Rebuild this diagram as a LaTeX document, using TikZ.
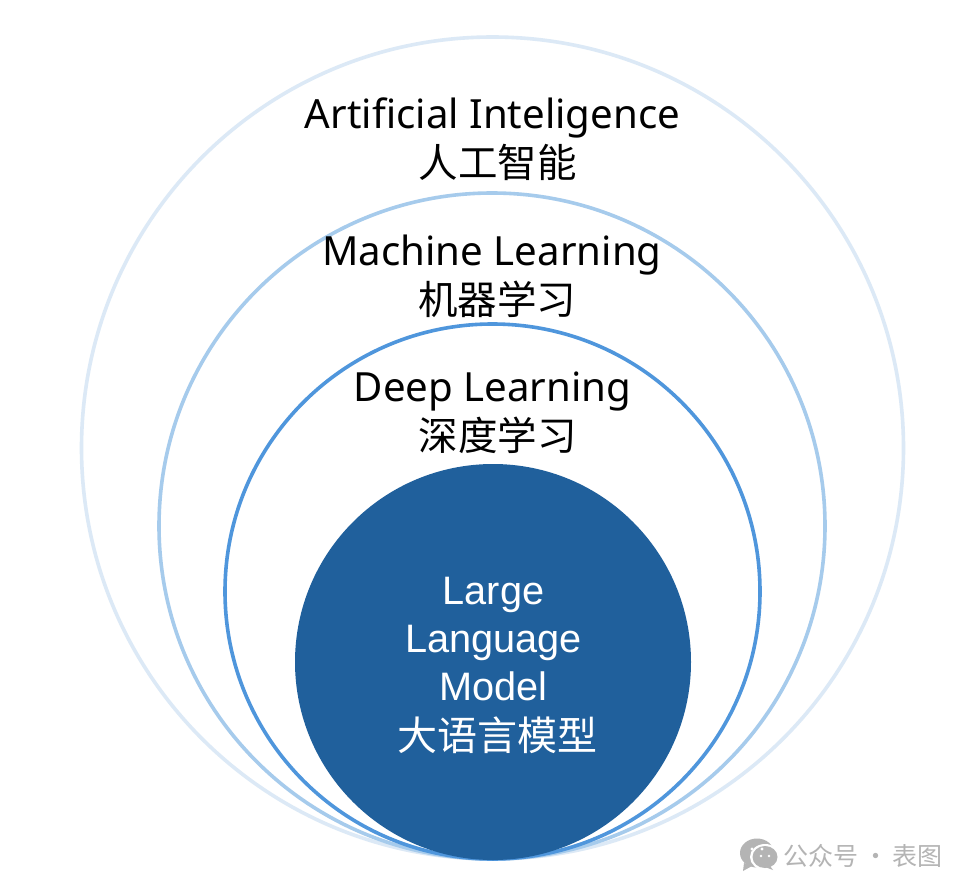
\documentclass[tikz,border=0pt]{standalone}
\usepackage{fontspec}
\setmainfont{Liberation Sans}
\newfontfamily\cjk{Noto Sans CJK SC}
\newfontfamily\latn{Noto Sans}
\definecolor{ringa}{HTML}{DCE9F6}
\definecolor{ringb}{HTML}{A6CBEC}
\definecolor{ringc}{HTML}{4F96DC}
\definecolor{core}{HTML}{20609C}
\definecolor{wm}{HTML}{B4B4B4}
\newcommand{\lzh}[1]{{\hspace{10pt}\cjk\fontsize{39.5}{48}\selectfont #1}}
\tikzset{
  ring/.style={circle,inner sep=0pt,outer sep=0pt,line width=3.6pt,fill=white},
  lab/.style={inner sep=0pt,align=center,text=black,font=\latn\fontsize{40.2}{48}\selectfont},
  corelab/.style={inner sep=0pt,align=center,text=white,font=\fontsize{39.7}{48}\selectfont},
  wmtext/.style={inner sep=0pt,text=wm,font=\cjk\fontsize{25}{25}\selectfont},
}
\begin{document}
\begin{tikzpicture}[x=1pt,y=-1pt]
\useasboundingbox (0,0) rectangle (972,894);
\fill[white] (0,0) rectangle (972,894);
\node[ring,draw=ringa,minimum size=822pt] (ai) at (492.5,448) {};
\node[ring,draw=ringb,minimum size=666pt] (ml) at (492,526) {};
\node[ring,draw=ringc,minimum size=535pt] (dl) at (492.5,591.5) {};
\node[circle,inner sep=0pt,outer sep=0pt,fill=core,minimum size=396pt] (llm) at (493,662) {};
\node[lab] (aitext) at (492.5,139) {Artificial Inteligence\\[1pt]\lzh{人工智能}};
\node[lab] (mltext) at (492,276) {Machine Learning\\[1pt]\lzh{机器学习}};
\node[lab] (dltext) at (492.5,413) {Deep Learning\\[1pt]\lzh{深度学习}};
\node[corelab] (llmtext) at (493.5,665.5) {Large\\Language\\Model\\[2pt]{\hspace{8pt}\cjk\fontsize{40}{48}\selectfont 大语言模型}};
% watermark
\fill[wm] (757,853) ellipse (17 and 14.5);
\fill[wm] (744,863) -- (743,871) -- (752,866) -- cycle;
\fill[white] (765,857) ellipse (15 and 13);
\fill[wm] (765,857) ellipse (12.5 and 11);
\fill[wm] (770,866) -- (773,870) -- (765,867) -- cycle;
\fill[white] (752,849) circle (1.7) (762,849) circle (1.7);
\fill[white] (761,856) circle (1.3) (769,856) circle (1.3);
\node[wmtext,anchor=west] (wmtext) at (783,856) {公众号\hspace{5pt}·\hspace{4pt}表图};
\end{tikzpicture}
\end{document}
